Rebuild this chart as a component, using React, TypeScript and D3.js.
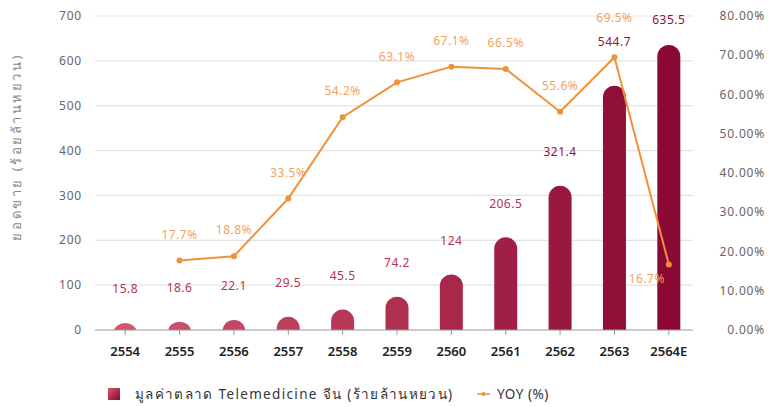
import React from "react";
import * as d3 from "d3";

const categories = ["2554", "2555", "2556", "2557", "2558", "2559", "2560", "2561", "2562", "2563", "2564E"];
const marketValues = [15.8, 18.6, 22.1, 29.5, 45.5, 74.2, 124, 206.5, 321.4, 544.7, 635.5];
const marketLabels = ["15.8", "18.6", "22.1", "29.5", "45.5", "74.2", "124", "206.5", "321.4", "544.7", "635.5"];
const yoyCategories = ["2555", "2556", "2557", "2558", "2559", "2560", "2561", "2562", "2563", "2564E"];
const yoyValues = [17.7, 18.8, 33.5, 54.2, 63.1, 67.1, 66.5, 55.6, 69.5, 16.7];
const leftTicks = [0, 100, 200, 300, 400, 500, 600, 700];
const rightTicks = [0, 10, 20, 30, 40, 50, 60, 70, 80];
const yTitle = "ยอดขาย (ร้อยล้านหยวน)";
const legendBar = "มูลค่าตลาด Telemedicine จีน (ร้ายล้านหยวน)";
const legendLine = "YOY (%)";

const W = 768;
const H = 407;
const FONT = "'Noto Sans', 'DejaVu Sans', sans-serif";

export default function App() {
  const top = 16;
  const bottom = 330;
  const left = 95;
  const right = 693;

  const x = d3.scaleBand<string>().domain(categories).range([98, 696]).paddingInner(0).paddingOuter(0);
  const yL = d3.scaleLinear().domain([0, 700]).range([bottom, top]);
  const yR = d3.scaleLinear().domain([0, 80]).range([bottom, top]);
  const barW = 23;
  const r = barW / 2;
  const cx = (c: string) => (x(c) as number) + x.bandwidth() / 2;
  const color = d3.interpolateRgb("#d4566f", "#8a0831");

  const line = d3
    .line<number>()
    .x((_, i) => cx(yoyCategories[i]))
    .y((d) => yR(d));

  // bar label positions (avoid the YOY line point at the same category)
  const barLabelY = marketValues.map((v, i) => {
    let y = yL(v) - 34;
    const j = yoyCategories.indexOf(categories[i]);
    if (j >= 0) {
      const py = yR(yoyValues[j]);
      if (Math.abs(py - y) < 14) y = py - 15;
    }
    return Math.max(y, 20);
  });

  const yoyLabelPos = yoyValues.map((v, i) => {
    const c = yoyCategories[i];
    const last = i === yoyValues.length - 1;
    if (last) return { x: cx(c) - 22, y: yR(v) + 14 };
    let y = yR(v) - 26;
    const bi = categories.indexOf(c);
    const by = barLabelY[bi];
    if (Math.abs(by - y) < 16) y = Math.max(by - 24, 17);
    return { x: cx(c), y };
  });

  return (
    <svg width={W} height={H} style={{ position: "absolute", left: 0, top: 0, background: "#fff" }} fontFamily={FONT}>
      <defs>
        <clipPath id="plotclip">
          <rect x={0} y={0} width={W} height={bottom} />
        </clipPath>
        <linearGradient id="legGrad" x1="0" y1="0" x2="1" y2="1">
          <stop offset="0%" stopColor="#d4566f" />
          <stop offset="100%" stopColor="#8a0831" />
        </linearGradient>
      </defs>

      {/* gridlines */}
      {leftTicks.slice(1).map((t) => (
        <line key={t} x1={left} x2={right} y1={yL(t)} y2={yL(t)} stroke="#e4e4e4" strokeWidth={1.2} />
      ))}

      {/* left axis labels */}
      {leftTicks.map((t) => (
        <text key={t} x={82} y={yL(t)} dy="0.35em" textAnchor="end" fontSize={12} fill="#666" letterSpacing={0.8}>
          {t}
        </text>
      ))}

      {/* right axis labels */}
      {rightTicks.map((t) => (
        <text key={t} x={765} y={yR(t)} dy="0.35em" textAnchor="end" fontSize={12} fill="#666" letterSpacing={0.8}>
          {t.toFixed(2) + "%"}
        </text>
      ))}

      {/* y title */}
      <text
        transform={`translate(16, 148) rotate(-90)`}
        textAnchor="middle"
        dy="0.35em"
        fontSize={13}
        fill="#888"
        textLength={185}
        lengthAdjust="spacing"
      >
        {yTitle}
      </text>

      {/* bars */}
      <g clipPath="url(#plotclip)">
        {marketValues.map((v, i) => (
          <rect
            key={categories[i]}
            x={cx(categories[i]) - barW / 2}
            y={yL(v)}
            width={barW}
            height={bottom - yL(v) + r}
            rx={r}
            ry={r}
            fill={color(i / (categories.length - 1))}
          />
        ))}
      </g>

      {/* x axis */}
      <line x1={left} x2={right} y1={bottom} y2={bottom} stroke="#999" strokeWidth={1.2} />
      {categories.map((c) => (
        <line key={c} x1={cx(c)} x2={cx(c)} y1={bottom} y2={bottom + 5} stroke="#999" strokeWidth={1} />
      ))}
      {categories.map((c) => (
        <text key={c} x={cx(c)} y={356} textAnchor="middle" fontSize={13} fontWeight={600} fill="#222">
          {c}
        </text>
      ))}

      {/* bar labels */}
      {marketValues.map((v, i) => (
        <text
          key={categories[i]}
          x={cx(categories[i])}
          y={barLabelY[i]}
          dy="0.35em"
          textAnchor="middle"
          fontSize={12}
          fill={i >= 8 ? "#8f1438" : "#b83350"}
          letterSpacing={0.5}
        >
          {marketLabels[i]}
        </text>
      ))}

      {/* yoy line */}
      <path d={line(yoyValues) || ""} fill="none" stroke="#f0913a" strokeWidth={2} />
      {yoyValues.map((v, i) => (
        <circle key={yoyCategories[i]} cx={cx(yoyCategories[i])} cy={yR(v)} r={3} fill="#f0913a" />
      ))}
      {yoyValues.map((v, i) => (
        <text
          key={yoyCategories[i]}
          x={yoyLabelPos[i].x}
          y={yoyLabelPos[i].y}
          dy="0.35em"
          textAnchor="middle"
          fontSize={12}
          fill="#f2a25f"
          letterSpacing={0.5}
        >
          {v.toFixed(1) + "%"}
        </text>
      ))}

      {/* legend */}
      <rect x={108} y={388} width={12} height={12} fill="url(#legGrad)" />
      <text x={135} y={394} dy="0.35em" fontSize={13.5} fill="#333" textLength={317} lengthAdjust="spacing">
        {legendBar}
      </text>
      <line x1={477} x2={490} y1={394} y2={394} stroke="#f0913a" strokeWidth={1.5} />
      <circle cx={483.5} cy={394} r={2} fill="#f0913a" />
      <text x={497} y={394} dy="0.35em" fontSize={13.5} fill="#333" letterSpacing={0.5}>
        {legendLine}
      </text>
    </svg>
  );
}
